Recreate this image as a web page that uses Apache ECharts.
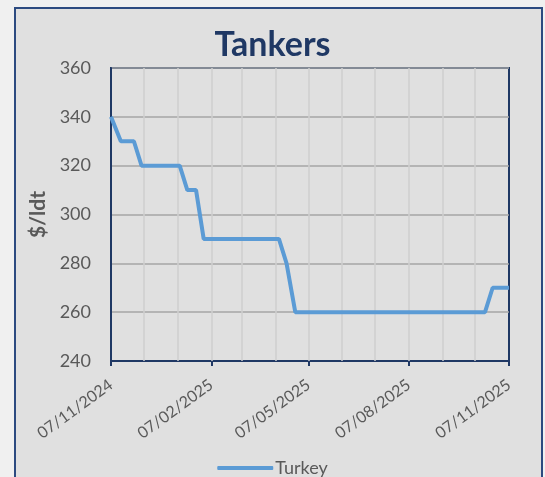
<!DOCTYPE html>
<html>
<head>
<meta charset="utf-8">
<script src="https://cdn.jsdelivr.net/npm/echarts@6/dist/echarts.min.js"></script>
<style>
html,body{margin:0;padding:0;background:#f0f0f0;}
#c{width:545px;height:477px;}
</style>
</head>
<body>
<div id="c"></div>
<script>
// ---- data ----
var seriesName = "Turkey";
var dates = ["2024-11-07","2024-11-16","2024-11-28","2024-12-05","2025-01-09","2025-01-16","2025-01-24","2025-01-31","2025-04-10","2025-04-17","2025-04-25","2025-10-16","2025-10-23","2025-11-07"];
var values = [340,330,330,320,320,310,310,290,290,280,260,260,270,270];
var labelDates = ["2024-11-07","2025-02-07","2025-05-07","2025-08-07","2025-11-07"];
var gridDates = ["2024-12-07","2025-01-07","2025-02-07","2025-03-07","2025-04-07","2025-05-07","2025-06-07","2025-07-07","2025-08-07","2025-09-07","2025-10-07"];
var xMinDate = "2024-11-07", xMaxDate = "2025-11-07";
var yMin = 240, yMax = 360, yStep = 20;

function ts(s){var p=s.split("-");return Date.UTC(+p[0],+p[1]-1,+p[2]);}
function pad(n){return (n<10?"0":"")+n;}
function fmt(v){var d=new Date(v);return pad(d.getUTCDate())+"/"+pad(d.getUTCMonth()+1)+"/"+d.getUTCFullYear();}

var navy = "#1f3864";
var font = "Lato";
var chart = echarts.init(document.getElementById("c"), null, {renderer:"canvas"});
chart.setOption({
  animation:false,
  backgroundColor:"#f0f0f0",
  textStyle:{fontFamily:font},
  graphic:[{type:"rect",shape:{x:15,y:8,width:527,height:480},style:{fill:"#e0e0e0",stroke:"#2c4a80",lineWidth:2},z:-10,silent:true}],
  title:{text:"Tankers",left:"center",top:23,textStyle:{fontFamily:font,fontWeight:"bold",fontSize:34,color:navy}},
  legend:{top:454,left:"center",icon:"roundRect",itemWidth:56,itemHeight:4,itemGap:10,
    textStyle:{fontFamily:font,fontSize:18,color:"#595959",padding:[0,0,0,-3]},data:[seriesName]},
  grid:{left:111,right:36,top:68,bottom:116,show:true,borderColor:navy,borderWidth:2,backgroundColor:"transparent"},
  xAxis:{type:"value",min:ts(xMinDate),max:ts(xMaxDate),scale:true,
    axisLine:{show:true,lineStyle:{color:navy,width:2}},
    axisTick:{show:true,length:5,lineStyle:{color:navy,width:2},customValues:labelDates.map(ts)},
    axisLabel:{customValues:labelDates.map(ts),rotate:36,margin:22,fontSize:16,color:"#595959",fontFamily:font,formatter:function(v){return fmt(v);},hideOverlap:false,showMinLabel:true,showMaxLabel:true},
    splitLine:{show:false}},
  yAxis:{type:"value",min:yMin,max:yMax,interval:yStep,
    name:"$/ldt",nameLocation:"middle",nameGap:62,nameRotate:90,
    nameTextStyle:{fontFamily:font,fontWeight:"bold",fontSize:21,color:"#595959"},
    axisLine:{show:true,lineStyle:{color:navy,width:2}},
    axisTick:{show:false},
    axisLabel:{fontSize:18,color:"#595959",margin:20,fontFamily:font},
    splitLine:{show:true,lineStyle:{color:"#a6a6a6",width:1.5}}},
  series:[
    {name:"grid",type:"line",data:[],silent:true,z:1,
      markLine:{silent:true,symbol:["none","none"],label:{show:false},animation:false,
        lineStyle:{color:"#cfcfcf",width:1.5,type:"solid"},
        data:gridDates.map(function(d){return {xAxis:ts(d)};})}},
    {name:seriesName,type:"line",z:5,showSymbol:false,symbol:"none",
      lineStyle:{color:"#5b9bd5",width:4},itemStyle:{color:"#5b9bd5"},
      data:dates.map(function(d,i){return [ts(d),values[i]];})}
  ]
});
</script>
</body>
</html>
